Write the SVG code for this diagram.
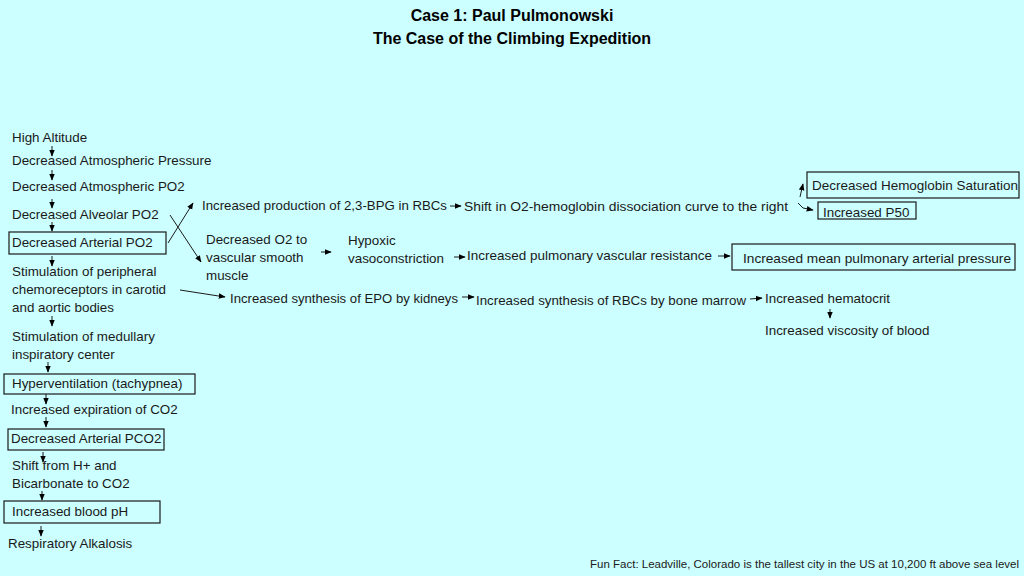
<svg xmlns="http://www.w3.org/2000/svg" width="1024" height="576" viewBox="0 0 1024 576">
<defs>
<marker id="ah" viewBox="0 0 10 10" refX="9" refY="5" markerWidth="7" markerHeight="7" markerUnits="userSpaceOnUse" orient="auto">
<path d="M0,1 L10,5 L0,9 z" fill="#000"/>
</marker>
</defs>
<style>
text{font-family:"Liberation Sans",Arial,sans-serif;font-size:13.4px;fill:#1a1a1a}
.t{font-weight:bold;font-size:16px;text-anchor:middle;fill:#000}
.f{font-size:11.6px}
.b{fill:none;stroke:#1a1a1a;stroke-width:1.2}
.c path,.c line{fill:none;stroke:#1a1a1a;stroke-width:1;marker-end:url(#ah)}
</style>
<rect width="1024" height="576" fill="#ccffff"/>
<g id="title">
<text class="t" x="512" y="21">Case 1: Paul Pulmonowski</text>
<text class="t" x="512" y="44">The Case of the Climbing Expedition</text>
</g>
<g id="n-high"><text x="12" y="142">High Altitude</text></g>
<g id="n-atmp"><text x="12" y="165">Decreased Atmospheric Pressure</text></g>
<g id="n-atpo2"><text x="12" y="191">Decreased Atmospheric PO2</text></g>
<g id="n-alv"><text x="12" y="219">Decreased Alveolar PO2</text></g>
<g id="n-art"><rect class="b" x="9" y="232" width="157" height="22"/><text x="12" y="247">Decreased Arterial PO2</text></g>
<g id="n-chemo"><text x="12" y="276">Stimulation of peripheral</text><text x="12" y="294">chemoreceptors in carotid</text><text x="12" y="312">and aortic bodies</text></g>
<g id="n-medul"><text x="12" y="341">Stimulation of medullary</text><text x="12" y="359">inspiratory center</text></g>
<g id="n-hyper"><rect class="b" x="4" y="374" width="191" height="20"/><text x="12" y="388">Hyperventilation (tachypnea)</text></g>
<g id="n-exp"><text x="11" y="414">Increased expiration of CO2</text></g>
<g id="n-pco2"><rect class="b" x="8" y="429" width="156" height="21"/><text x="11" y="443">Decreased Arterial PCO2</text></g>
<g id="n-shift"><text x="12" y="470">Shift from H+ and</text><text x="12" y="488">Bicarbonate to CO2</text></g>
<g id="n-ph"><rect class="b" x="4" y="501" width="156" height="22"/><text x="12" y="516">Increased blood pH</text></g>
<g id="n-alk"><text x="8" y="548">Respiratory Alkalosis</text></g>
<g id="n-bpg"><text x="202" y="210" textLength="245" lengthAdjust="spacingAndGlyphs">Increased production of 2,3-BPG in RBCs</text></g>
<g id="n-curve"><text x="464" y="211" textLength="324" lengthAdjust="spacingAndGlyphs">Shift in O2-hemoglobin dissociation curve to the right</text></g>
<g id="n-hbsat"><rect class="b" x="807" y="172" width="212" height="26"/><text x="812" y="190" textLength="206" lengthAdjust="spacingAndGlyphs">Decreased Hemoglobin Saturation</text></g>
<g id="n-p50"><rect class="b" x="818" y="202" width="98" height="17"/><text x="823" y="217">Increased P50</text></g>
<g id="n-o2vsm"><text x="206" y="244">Decreased O2 to</text><text x="206" y="262">vascular smooth</text><text x="206" y="280">muscle</text></g>
<g id="n-hvc"><text x="348" y="245">Hypoxic</text><text x="348" y="263">vasoconstriction</text></g>
<g id="n-pvr"><text x="467" y="260" textLength="245" lengthAdjust="spacingAndGlyphs">Increased pulmonary vascular resistance</text></g>
<g id="n-mpap"><rect class="b" x="732" y="244" width="283" height="26"/><text x="743" y="263" textLength="268" lengthAdjust="spacingAndGlyphs">Increased mean pulmonary arterial pressure</text></g>
<g id="n-epo"><text x="230" y="303" textLength="228" lengthAdjust="spacingAndGlyphs">Increased synthesis of EPO by kidneys</text></g>
<g id="n-rbc"><text x="476" y="305" textLength="270" lengthAdjust="spacingAndGlyphs">Increased synthesis of RBCs by bone marrow</text></g>
<g id="n-hct"><text x="765" y="303">Increased hematocrit</text></g>
<g id="n-visc"><text x="765" y="335">Increased viscosity of blood</text></g>
<g id="funfact"><text class="f" x="590" y="568" textLength="429" lengthAdjust="spacingAndGlyphs">Fun Fact: Leadville, Colorado is the tallest city in the US at 10,200 ft above sea level</text></g>
<g id="connectors" class="c">
<line x1="52" y1="146" x2="52" y2="156"/>
<line x1="52" y1="170" x2="52" y2="180"/>
<line x1="52" y1="199" x2="52" y2="208"/>
<line x1="52" y1="222" x2="52" y2="231"/>
<line x1="52" y1="256" x2="52" y2="266"/>
<line x1="52" y1="316" x2="52" y2="326"/>
<line x1="48" y1="362" x2="48" y2="372"/>
<line x1="46" y1="394" x2="46" y2="404"/>
<line x1="46" y1="417" x2="46" y2="427"/>
<line x1="43" y1="452" x2="43" y2="462"/>
<line x1="42" y1="491" x2="42" y2="500"/>
<line x1="41" y1="526" x2="41" y2="536"/>
<line x1="168" y1="243" x2="193" y2="203"/>
<line x1="170" y1="215" x2="201" y2="262"/>
<line x1="180" y1="290" x2="225" y2="297"/>
<line x1="450" y1="206" x2="461" y2="206"/>
<path d="M800,197 L803,184"/>
<path d="M798,203 L803,208 L813,210"/>
<line x1="321" y1="252" x2="331" y2="252"/>
<line x1="454" y1="257" x2="465" y2="257"/>
<line x1="718" y1="256" x2="730" y2="256"/>
<line x1="462" y1="297" x2="474" y2="297"/>
<line x1="750" y1="299" x2="762" y2="298"/>
<line x1="830" y1="309" x2="830" y2="318"/>
</g>
</svg>
